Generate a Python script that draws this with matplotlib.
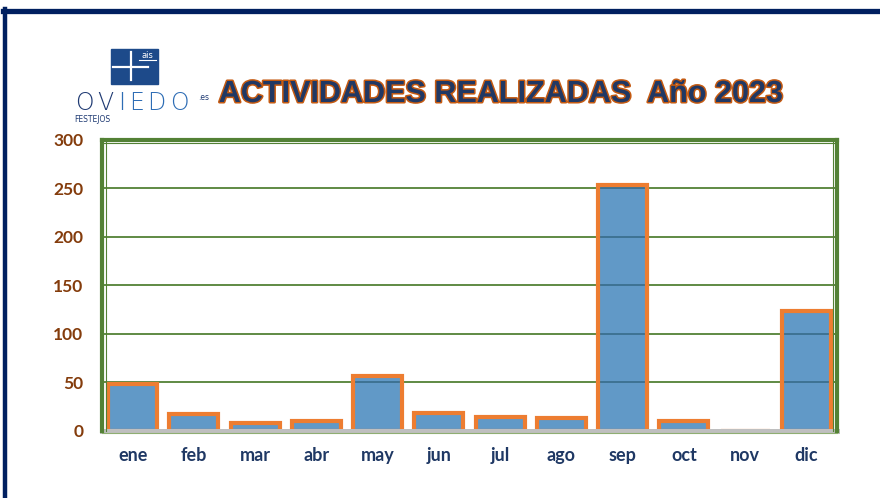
import matplotlib
matplotlib.use("Agg")
import matplotlib.pyplot as plt
import matplotlib.patheffects as pe
from matplotlib.transforms import ScaledTranslation
from matplotlib.patches import Rectangle
from matplotlib.lines import Line2D

months = ["ene", "feb", "mar", "abr", "may", "jun", "jul", "ago", "sep", "oct", "nov", "dic"]
values = [48, 17, 8, 10, 56, 18, 14, 13, 253, 10, 0, 123]
yticks = [0, 50, 100, 150, 200, 250, 300]
title = "ACTIVIDADES REALIZADAS  Año 2023"

W, H = 880, 498
fig = plt.figure(figsize=(W / 100, H / 100), dpi=100)
fig.patch.set_facecolor("white")

# axes placement (pixels)
L, R, T, B = 102, 837, 139.8, 430.8
ax = fig.add_axes([L / W, (H - B) / H, (R - L) / W, (B - T) / H])
ax.set_facecolor("white")
ax.set_xlim(-0.5, len(months) - 0.5)
ax.set_ylim(0, 300)

GREEN = "#538135"
BLUE = "#6199c7"
ORANGE = "#ed7d31"

x = list(range(len(months)))
fills = ax.bar(x, values, width=0.8, color=BLUE, edgecolor="none", zorder=2)
for yv in yticks[1:-1]:
    ax.axhline(yv, color=GREEN, lw=1.3, zorder=1)
    for b in fills:
        ln = ax.axhline(yv, color="#3b6f8f", lw=1.3, zorder=3)
        ln.set_clip_path(b)
ax.bar(x, values, width=0.8, color="none", edgecolor=ORANGE, linewidth=3.0, zorder=4)

px = lambda p: ScaledTranslation(0, p / 100, fig.dpi_scale_trans)
offx = lambda p: ScaledTranslation(p / 100, 0, fig.dpi_scale_trans)
ax.axhline(0, color="#bfbfbf", lw=3.6, zorder=5, clip_on=False)
ax.plot([0, 1], [0, 0], transform=ax.transAxes + px(-2.6), color="#8fae72", lw=0.8,
        zorder=5, clip_on=False)

for s in ["left", "top", "right"]:
    ax.spines[s].set_color(GREEN)
    ax.spines[s].set_linewidth(3.0)
    ax.spines[s].set_zorder(6)
ax.spines["bottom"].set_visible(False)
ax.plot([0, 0], [0, 1], transform=ax.transAxes + offx(3.5), color=GREEN, lw=0.8, zorder=6, clip_on=False)
ax.plot([1, 1], [0, 1], transform=ax.transAxes + offx(-4.0), color=GREEN, lw=0.8, zorder=6, clip_on=False)
ax.plot([0, 1], [1, 1], transform=ax.transAxes + px(-3.5), color=GREEN, lw=0.8, zorder=6, clip_on=False)

ax.set_yticks(yticks)
ax.set_yticklabels([str(v) for v in yticks], fontsize=12.5, fontweight="bold",
                   color="#843c0c", fontfamily="Lato")
ax.set_xticks(x)
ax.set_xticklabels(months, fontsize=13, fontweight="bold", color="#1f3864", fontfamily="Lato")
ax.tick_params(axis="y", length=0, pad=13.5)
ax.tick_params(axis="x", length=0, pad=11.5)

# title
fig.text(500 / W, 1 - 94 / H, title, ha="center", va="center", fontsize=22,
         fontweight="bold", fontfamily="Liberation Sans", color="#203864",
         path_effects=[pe.Stroke(linewidth=2.2, foreground="#c55a11"), pe.Normal()])

# outer navy frame
NAVY = "#002060"
fig.add_artist(Line2D([3 / W, 1], [1 - 11.5 / H, 1 - 11.5 / H], color=NAVY, lw=3.8,
                      transform=fig.transFigure))
fig.add_artist(Line2D([5 / W, 5 / W], [0, 1 - 9.5 / H], color=NAVY, lw=3.2,
                      transform=fig.transFigure))

# logo
LOGO = "#1d4a8a"
fig.add_artist(Rectangle((111 / W, 1 - 84 / H), 47 / W, 35 / H, color=LOGO,
                         transform=fig.transFigure))
fig.add_artist(Line2D([131 / W, 131 / W], [1 - 80 / H, 1 - 52 / H], color="white", lw=1.6,
                      transform=fig.transFigure))
fig.add_artist(Line2D([113 / W, 148 / W], [1 - 67 / H, 1 - 67 / H], color="white", lw=1.6,
                      transform=fig.transFigure))
fig.text(147 / W, 1 - 56 / H, "ais", ha="center", va="center", fontsize=6, color="white",
         fontfamily="DejaVu Sans")
fig.add_artist(Line2D([139 / W, 156 / W], [1 - 60.5 / H, 1 - 60.5 / H], color="white", lw=0.8,
                      transform=fig.transFigure))

# OVIEDO word, letters spaced to match the wide logo typeface
logo_letters = "OVIEDO"
logo_colors = ["#1f3a73", "#1f3a73", "#2e6db5", "#2e6db5", "#2e6db5", "#2e6db5"]
fig.canvas.draw()
renderer = fig.canvas.get_renderer()
cur = 75.0
for ch, c in zip(logo_letters, logo_colors):
    t = fig.text(cur / W, 1 - 103 / H, ch, ha="left", va="center", fontsize=17,
                 color=c, fontfamily="DejaVu Sans", fontweight="light")
    bb = t.get_window_extent(renderer=renderer)
    cur = bb.x1 + 4
fig.text(198 / W, 1 - 97 / H, ".es", ha="left", va="center", fontsize=5.5,
         color="#1f3a73", fontfamily="DejaVu Sans")
fig.text(74 / W, 1 - 120 / H, "FESTEJOS", ha="left", va="center", fontsize=5.5,
         color="#1f3a73", fontfamily="DejaVu Sans")

fig.savefig("out.png", dpi=100, facecolor="white")
